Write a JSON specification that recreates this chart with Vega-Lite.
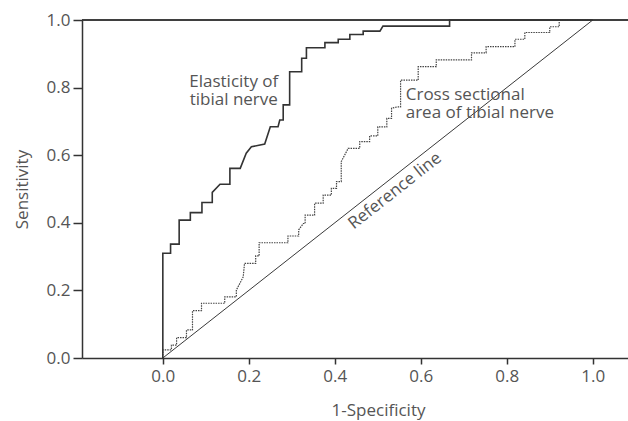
{
  "$schema": "https://vega.github.io/schema/vega-lite/v6.json",
  "width": 546,
  "height": 338,
  "autosize": "none",
  "padding": {"left": 82, "top": 20, "right": 0, "bottom": 63},
  "background": "white",
  "config": {
    "view": {"stroke": null},
    "font": "Open Sans",
    "axis": {
      "grid": false,
      "domainColor": "#333",
      "domainWidth": 1.5,
      "tickColor": "#333",
      "tickWidth": 1.5,
      "labelFont": "Open Sans",
      "labelFontSize": 17,
      "labelColor": "#555",
      "titleFont": "Open Sans",
      "titleFontSize": 17,
      "titleFontWeight": "normal",
      "titleColor": "#555"
    }
  },
  "datasets": {
    "elast": [
      {"x": 0, "y": 0}, {"x": 0, "y": 0.31}, {"x": 0.018, "y": 0.31}, {"x": 0.018, "y": 0.337},
      {"x": 0.038, "y": 0.337}, {"x": 0.038, "y": 0.408}, {"x": 0.064, "y": 0.408}, {"x": 0.064, "y": 0.43},
      {"x": 0.091, "y": 0.43}, {"x": 0.091, "y": 0.46}, {"x": 0.115, "y": 0.46}, {"x": 0.115, "y": 0.49},
      {"x": 0.133, "y": 0.514}, {"x": 0.156, "y": 0.514}, {"x": 0.156, "y": 0.561}, {"x": 0.18, "y": 0.561},
      {"x": 0.194, "y": 0.606}, {"x": 0.206, "y": 0.625}, {"x": 0.237, "y": 0.633}, {"x": 0.25, "y": 0.684},
      {"x": 0.268, "y": 0.684}, {"x": 0.272, "y": 0.704}, {"x": 0.28, "y": 0.704}, {"x": 0.28, "y": 0.749},
      {"x": 0.295, "y": 0.749}, {"x": 0.295, "y": 0.847}, {"x": 0.323, "y": 0.847}, {"x": 0.323, "y": 0.887},
      {"x": 0.334, "y": 0.887}, {"x": 0.334, "y": 0.918}, {"x": 0.377, "y": 0.918}, {"x": 0.377, "y": 0.933},
      {"x": 0.408, "y": 0.933}, {"x": 0.408, "y": 0.943}, {"x": 0.435, "y": 0.943}, {"x": 0.435, "y": 0.957},
      {"x": 0.466, "y": 0.957}, {"x": 0.466, "y": 0.967}, {"x": 0.505, "y": 0.967}, {"x": 0.512, "y": 0.982},
      {"x": 0.667, "y": 0.982}, {"x": 0.667, "y": 1.0}, {"x": 1.0, "y": 1.0}
    ],
    "csa": [
      {"x": 0, "y": 0}, {"x": 0, "y": 0.024}, {"x": 0.02, "y": 0.024}, {"x": 0.02, "y": 0.038},
      {"x": 0.032, "y": 0.038}, {"x": 0.032, "y": 0.06}, {"x": 0.055, "y": 0.06}, {"x": 0.055, "y": 0.083},
      {"x": 0.069, "y": 0.083}, {"x": 0.069, "y": 0.14}, {"x": 0.09, "y": 0.14}, {"x": 0.09, "y": 0.162},
      {"x": 0.144, "y": 0.162}, {"x": 0.144, "y": 0.181}, {"x": 0.171, "y": 0.181}, {"x": 0.171, "y": 0.201},
      {"x": 0.187, "y": 0.24}, {"x": 0.19, "y": 0.28}, {"x": 0.216, "y": 0.28}, {"x": 0.216, "y": 0.302},
      {"x": 0.224, "y": 0.302}, {"x": 0.224, "y": 0.341}, {"x": 0.291, "y": 0.341}, {"x": 0.291, "y": 0.361},
      {"x": 0.316, "y": 0.361}, {"x": 0.316, "y": 0.379}, {"x": 0.327, "y": 0.398}, {"x": 0.331, "y": 0.398},
      {"x": 0.331, "y": 0.423}, {"x": 0.353, "y": 0.423}, {"x": 0.353, "y": 0.458}, {"x": 0.373, "y": 0.458},
      {"x": 0.373, "y": 0.482}, {"x": 0.392, "y": 0.482}, {"x": 0.392, "y": 0.502}, {"x": 0.404, "y": 0.502},
      {"x": 0.404, "y": 0.522}, {"x": 0.415, "y": 0.522}, {"x": 0.415, "y": 0.581}, {"x": 0.431, "y": 0.62},
      {"x": 0.458, "y": 0.62}, {"x": 0.458, "y": 0.64}, {"x": 0.481, "y": 0.64}, {"x": 0.481, "y": 0.657},
      {"x": 0.5, "y": 0.657}, {"x": 0.5, "y": 0.684}, {"x": 0.521, "y": 0.684}, {"x": 0.521, "y": 0.709},
      {"x": 0.532, "y": 0.709}, {"x": 0.532, "y": 0.739}, {"x": 0.545, "y": 0.743}, {"x": 0.553, "y": 0.743},
      {"x": 0.553, "y": 0.822}, {"x": 0.594, "y": 0.822}, {"x": 0.594, "y": 0.862}, {"x": 0.636, "y": 0.862},
      {"x": 0.636, "y": 0.882}, {"x": 0.718, "y": 0.882}, {"x": 0.718, "y": 0.903}, {"x": 0.752, "y": 0.903},
      {"x": 0.752, "y": 0.921}, {"x": 0.819, "y": 0.921}, {"x": 0.819, "y": 0.943}, {"x": 0.842, "y": 0.943},
      {"x": 0.842, "y": 0.963}, {"x": 0.9, "y": 0.963}, {"x": 0.9, "y": 0.98}, {"x": 0.922, "y": 0.98},
      {"x": 0.922, "y": 1.0}, {"x": 1.0, "y": 1.0}
    ],
    "ref": [{"x": 0, "y": 0}, {"x": 1, "y": 1}],
    "labels": [
      {"x": 0.165, "y": 0.802, "text": ["Elasticity of", "tibial nerve"], "kind": "e"},
      {"x": 0.565, "y": 0.763, "text": ["Cross sectional", "area of tibial nerve"], "kind": "c"},
      {"x": 0.54, "y": 0.494, "text": "Reference line", "kind": "r"}
    ]
  },
  "layer": [
    {
      "data": {"name": "ref"},
      "mark": {"type": "line", "color": "#222", "strokeWidth": 0.9},
      "encoding": {
        "x": {"field": "x", "type": "quantitative", "scale": {"domain": [-0.188, 1.082], "nice": false, "zero": false},
          "axis": {"values": [0, 0.2, 0.4, 0.6, 0.8, 1.0], "format": ".1f", "tickSize": 6, "labelPadding": 4,
            "title": "1-Specificity", "titleX": 296, "titleY": 57, "titleBaseline": "alphabetic", "titleAlign": "center"}},
        "y": {"field": "y", "type": "quantitative", "scale": {"domain": [0, 1], "nice": false},
          "axis": {"values": [0, 0.2, 0.4, 0.6, 0.8, 1.0], "format": ".1f", "tickSize": 9, "labelPadding": 3,
            "title": "Sensitivity", "titleX": -55, "titleY": 169, "titleBaseline": "alphabetic", "titleAlign": "center", "titleAngle": -90}}
      }
    },
    {
      "data": {"name": "ref"},
      "mark": {"type": "rule", "color": "#333", "strokeWidth": 1.5},
      "encoding": {"y": {"datum": 1}}
    },
    {
      "data": {"name": "csa"},
      "mark": {"type": "line", "color": "#444", "strokeWidth": 1.2, "strokeDash": [1.5, 1]},
      "encoding": {
        "x": {"field": "x", "type": "quantitative"},
        "y": {"field": "y", "type": "quantitative"}
      }
    },
    {
      "data": {"name": "elast"},
      "mark": {"type": "line", "color": "#333", "strokeWidth": 1.6},
      "encoding": {
        "x": {"field": "x", "type": "quantitative"},
        "y": {"field": "y", "type": "quantitative"}
      }
    },
    {
      "data": {"name": "labels"},
      "transform": [{"filter": "datum.kind == 'e'"}],
      "mark": {"type": "text", "font": "Open Sans", "fontSize": 17, "color": "#555", "align": "center", "baseline": "alphabetic", "lineHeight": 18.5},
      "encoding": {
        "x": {"field": "x", "type": "quantitative"},
        "y": {"field": "y", "type": "quantitative"},
        "text": {"field": "text"}
      }
    },
    {
      "data": {"name": "labels"},
      "transform": [{"filter": "datum.kind == 'c'"}],
      "mark": {"type": "text", "font": "Open Sans", "fontSize": 17, "color": "#555", "align": "left", "baseline": "alphabetic", "lineHeight": 18},
      "encoding": {
        "x": {"field": "x", "type": "quantitative"},
        "y": {"field": "y", "type": "quantitative"},
        "text": {"field": "text"}
      }
    },
    {
      "data": {"name": "labels"},
      "transform": [{"filter": "datum.kind == 'r'"}],
      "mark": {"type": "text", "font": "Open Sans", "fontSize": 17, "color": "#555", "align": "center", "baseline": "middle", "angle": -38.2},
      "encoding": {
        "x": {"field": "x", "type": "quantitative"},
        "y": {"field": "y", "type": "quantitative"},
        "text": {"field": "text"}
      }
    }
  ]
}
